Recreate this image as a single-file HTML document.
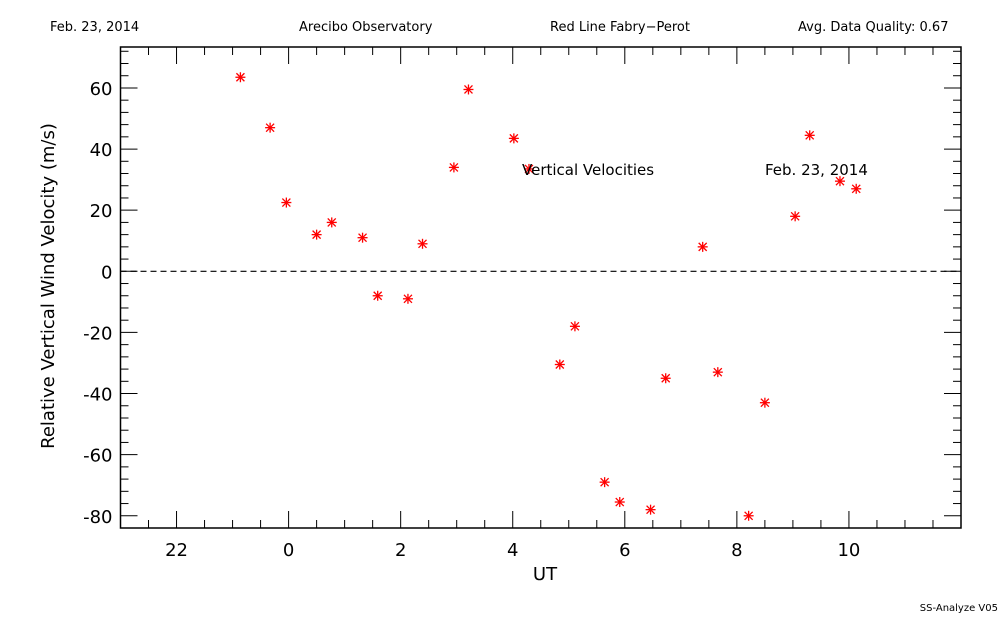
<!DOCTYPE html>
<html><head><meta charset="utf-8"><style>
body{margin:0;background:#fff;}
svg{display:block;font-family:"DejaVu Sans","Liberation Sans",sans-serif;}
</style></head><body>
<svg id="chart" width="1000" height="625" xmlns="http://www.w3.org/2000/svg">
<rect width="1000" height="625" fill="#fff"/>
<text x="50" y="31" font-size="13">Feb. 23, 2014</text>
<text x="299" y="31" font-size="13">Arecibo Observatory</text>
<text x="550" y="31" font-size="13">Red Line Fabry−Perot</text>
<text x="798" y="31" font-size="13">Avg. Data Quality: 0.67</text>
<text x="998" y="611" font-size="10" text-anchor="end">SS-Analyze V05</text>
<g id="axes"></g>
<g id="marks"></g>
<text x="522" y="175" font-size="15">Vertical Velocities</text>
<text x="765" y="175" font-size="15">Feb. 23, 2014</text>
<text x="545" y="580" font-size="18" text-anchor="middle">UT</text>
<text transform="translate(54,286) rotate(-90)" font-size="18" text-anchor="middle">Relative Vertical Wind Velocity (m/s)</text>
</svg>
<script>
const hours=[23.14,23.67,23.96,24.5,24.77,25.32,25.59,26.13,26.39,26.95,27.21,28.02,28.29,28.84,29.11,29.64,29.91,30.46,30.73,31.39,31.66,32.21,32.5,33.04,33.3,33.84,34.13];
const velocities=[63.5,47,22.5,12,16,11,-8,-9,9,34,59.5,43.5,33.5,-30.5,-18,-69,-75.5,-78,-35,8,-33,-80,-43,18,44.5,29.5,27];
const xTicks=[22,24,26,28,30,32,34];
const xTickLabels=["22","0","2","4","6","8","10"];
const yTicks=[-80,-60,-40,-20,0,20,40,60];
const L=120.5,R=961,T=47,B=528,X0=21,X1=36,Y0=-84,Y1=73.4;
const xs=h=>L+(h-X0)/(X1-X0)*(R-L);
const ys=v=>B-(v-Y0)/(Y1-Y0)*(B-T);
const NS="http://www.w3.org/2000/svg";
function mk(t,a,p){const e=document.createElementNS(NS,t);for(const k in a)e.setAttribute(k,a[k]);p.appendChild(e);return e;}
const ax=document.getElementById('axes');
const frame=mk('rect',{x:L,y:T,width:R-L,height:B-T,fill:'none',stroke:'#000','stroke-width':1.5},ax);


for(let h=21;h<=36.001;h+=0.5){const x=xs(h);const major=Math.abs(h%2)<0.01;const len=major?17:8;
mk('line',{x1:x,x2:x,y1:B,y2:B-len,stroke:'#000','stroke-width':1},ax);
mk('line',{x1:x,x2:x,y1:T,y2:T+len,stroke:'#000','stroke-width':1},ax);}
xTicks.forEach((h,i)=>{const t=mk('text',{x:xs(h),y:B+28,'font-size':18,'text-anchor':'middle'},ax);t.textContent=xTickLabels[i];

});
for(let v=-84;v<=73;v+=4){const y=ys(v);const major=v%20===0;const len=major?17:8;
mk('line',{x1:L,x2:L+len,y1:y,y2:y,stroke:'#000','stroke-width':1},ax);
mk('line',{x1:R,x2:R-len,y1:y,y2:y,stroke:'#000','stroke-width':1},ax);}
yTicks.forEach(v=>{const t=mk('text',{x:L-8,y:ys(v)+7,'font-size':18,'text-anchor':'end'},ax);t.textContent=String(v);

});
const zl=mk('line',{x1:L,x2:R,y1:ys(0),y2:ys(0),stroke:'#000','stroke-width':1.2,'stroke-dasharray':'6,4'},ax);


const mg=document.getElementById('marks');
hours.forEach((h,i)=>{const cx=xs(h),cy=ys(velocities[i]);
const g=mk('g',{stroke:'#f00','stroke-width':1.3},mg);


mk('line',{x1:cx-5,x2:cx+5,y1:cy,y2:cy},g);mk('line',{x1:cx,x2:cx,y1:cy-5,y2:cy+5},g);
mk('line',{x1:cx-4,x2:cx+4,y1:cy-4,y2:cy+4},g);mk('line',{x1:cx-4,x2:cx+4,y1:cy+4,y2:cy-4},g);});
</script>
</body></html>
